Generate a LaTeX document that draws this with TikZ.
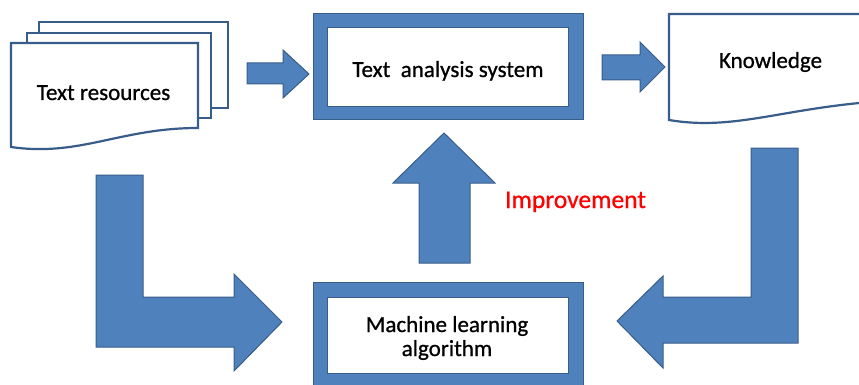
\documentclass[tikz,border=0pt]{standalone}
\usepackage{fontspec}
\setmainfont{Carlito}[FakeBold=0.8]
\definecolor{afill}{HTML}{4F81BD}
\definecolor{aline}{HTML}{385D8A}
\definecolor{ired}{HTML}{FF0000}
\tikzset{
  blockarrow/.style={fill=afill, draw=aline, line width=1pt, line join=miter},
  docshape/.style={fill=white, draw=aline, line width=2.2pt, line join=miter},
  outerbox/.style={rectangle, fill=afill, draw=aline, line width=1pt, inner sep=0pt, outer sep=0pt},
  innerbox/.style={rectangle, fill=white, draw=aline, line width=1pt, inner sep=0pt, outer sep=0pt},
  lbl/.style={anchor=base, inner sep=0pt, font=\fontsize{23}{24}\selectfont, text=black},
}
\begin{document}
\begin{tikzpicture}[x=1pt, y=-1pt]
\useasboundingbox (0,0) rectangle (859,385);
\begin{scope}
\clip (0,0) rectangle (859,385);
% Text resources stack
\draw[docshape] (39,22) -- (228,22) -- (228,108) -- (39,108) -- cycle;
\draw[docshape] (27,33) -- (211,33) -- (211,118) -- (27,118) -- cycle;
\draw[docshape] (11,43) -- (198,43) -- (198,128) .. controls (120,128) and (80,157) .. (11,147) -- cycle;
% Knowledge document
\draw[docshape] (669,14) -- (905,14) -- (905,100) .. controls (790,104) and (740,132) .. (669,120) -- cycle;
% boxes
\node[outerbox, minimum width=270pt, minimum height=106pt] (tasout) at (448,67) {};
\node[innerbox, minimum width=241pt, minimum height=79pt] (tas) at (447.5,67.5) {};
\node[outerbox, minimum width=270pt, minimum height=106pt] (mlout) at (448,335) {};
\node[innerbox, minimum width=241pt, minimum height=76pt] (ml) at (447.5,335) {};
% arrows
\draw[blockarrow] (247,63) -- (283,63) -- (283,50) -- (309,74) -- (283,98) -- (283,84) -- (247,84) -- cycle;
\draw[blockarrow] (602,55) -- (640,55) -- (640,42) -- (665,67) -- (640,92) -- (640,80) -- (602,80) -- cycle;
\draw[blockarrow] (419,263) -- (419,183) -- (393,183) -- (444,133) -- (495,183) -- (470,183) -- (470,263) -- cycle;
\draw[blockarrow] (96,175) -- (143,175) -- (143,297) -- (234,297) -- (234,274) -- (282,322) -- (234,371) -- (234,347) -- (96,347) -- cycle;
\draw[blockarrow] (798,148) -- (751,148) -- (751,297) -- (663,297) -- (663,276) -- (617,321) -- (663,368) -- (663,343) -- (798,343) -- cycle;
\end{scope}
% labels
\node[lbl] (trtext) at (103.5,100) {Text resources};
\node[lbl] (tastext) at (448,77) {Text\ \ analysis system};
\node[lbl] (kntext) at (770.5,68) {Knowledge};
\node[lbl, text=ired, font=\fontsize{25.5}{26}\selectfont] (imp) at (575.5,208) {Improvement};
\node[lbl, align=center] (mltext) at (447,356) {Machine learning\\algorithm};
\end{tikzpicture}
\end{document}
